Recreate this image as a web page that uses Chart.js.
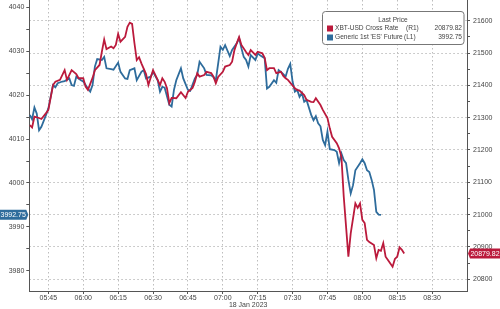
<!DOCTYPE html>
<html>
<head>
<meta charset="utf-8">
<script src="https://cdn.jsdelivr.net/npm/chart.js@4.4.0/dist/chart.umd.min.js"></script>
<style>
  html, body { margin: 0; padding: 0; background: #fff; }
  #wrap { width: 500px; height: 309px; }
</style>
</head>
<body>
<div id="wrap"><canvas id="chart"></canvas></div>
<script>
// XBT-USD cross rate (right axis)
const redTimes = [
  '05:37','05:38','05:39','05:41','05:42','05:44','05:45','05:47','05:48','05:50',
  '05:52','05:53','05:55','05:57','05:58','06:00','06:01','06:02','06:04','06:05',
  '06:07','06:08','06:09','06:10','06:12','06:13','06:14','06:15','06:16','06:18',
  '06:19','06:20','06:21','06:22','06:23','06:24','06:25','06:27','06:28','06:30',
  '06:32','06:33','06:34','06:35','06:36','06:37','06:38','06:40','06:42','06:44',
  '06:45','06:47','06:48','06:49','06:50','06:52','06:53','06:55','06:56','06:57',
  '06:58','07:00','07:01','07:03','07:04','07:05','07:06','07:07','07:08','07:10',
  '07:11','07:12','07:14','07:15','07:17','07:18','07:19','07:20','07:22','07:23',
  '07:25','07:26','07:27','07:28','07:31','07:32','07:33','07:35','07:36','07:38',
  '07:39','07:40','07:42','07:43','07:45','07:46','07:47','07:49','07:50','07:51',
  '07:52','07:54','07:55','07:57','07:58','07:59','08:00','08:01','08:02','08:03',
  '08:05','08:06','08:07','08:08','08:09','08:10','08:11','08:13','08:14','08:15',
  '08:16','08:17','08:18'
];
const redValues = [
  21277,21270,21303,21299,21296,21314,21324,21401,21411,21417,
  21447,21417,21447,21435,21422,21422,21396,21386,21423,21447,
  21463,21504,21542,21512,21520,21515,21525,21559,21535,21550,
  21581,21594,21590,21531,21478,21487,21468,21435,21401,21447,
  21417,21401,21422,21411,21391,21345,21361,21360,21379,21361,
  21380,21392,21411,21437,21427,21432,21442,21438,21427,21406,
  21426,21442,21458,21463,21473,21509,21530,21549,21525,21503,
  21494,21509,21494,21504,21499,21485,21447,21453,21453,21438,
  21442,21429,21422,21417,21391,21386,21384,21370,21355,21349,
  21348,21360,21339,21324,21299,21267,21241,21221,21205,21179,
  21056,20870,20942,21035,21021,21035,20984,20974,20922,20915,
  20906,20865,20891,20888,20912,20870,20860,20839,20863,20870,
  20899,20891,20879.82
];

// Generic 1st 'ES' future (left axis)
const blueTimes = [
  '05:37','05:38','05:39','05:40','05:41','05:42','05:44','05:45','05:47','05:48',
  '05:49','05:51','05:52','05:54','05:55','05:56','05:57','05:59','06:00','06:02',
  '06:03','06:04','06:05','06:06','06:08','06:09','06:10','06:12','06:13','06:15',
  '06:16','06:18','06:19','06:20','06:22','06:23','06:25','06:26','06:27','06:29',
  '06:30','06:32','06:33','06:34','06:35','06:37','06:38','06:39','06:40','06:42',
  '06:43','06:45','06:46','06:48','06:49','06:50','06:52','06:53','06:55','06:56',
  '06:57','06:58','06:59','07:00','07:01','07:03','07:04','07:06','07:07','07:08',
  '07:09','07:10','07:11','07:12','07:14','07:15','07:16','07:18','07:19','07:20',
  '07:22','07:23','07:24','07:25','07:26','07:27','07:28','07:29','07:30','07:31',
  '07:32','07:33','07:34','07:35','07:36','07:38','07:39','07:40','07:41','07:42',
  '07:43','07:44','07:45','07:46','07:48','07:49','07:50','07:51','07:52','07:53',
  '07:54','07:55','07:56','07:57','07:59','08:00','08:01','08:02','08:03','08:04',
  '08:05','08:06','08:07','08:08'
];
const blueValues = [
  4015.5,4014.5,4017.2,4015.8,4012.0,4012.8,4015.5,4017.0,4022.3,4021.8,
  4022.7,4023.1,4023.2,4023.8,4022.3,4022.1,4024.2,4023.4,4023.1,4021.5,
  4020.8,4022.3,4026.5,4028.2,4028.0,4028.7,4026.1,4025.9,4025.8,4027.4,
  4025.3,4023.8,4023.7,4025.7,4026.1,4023.4,4025.3,4025.7,4023.8,4024.2,
  4025.3,4023.4,4020.8,4021.9,4021.7,4017.8,4017.4,4021.2,4023.4,4026.1,
  4023.8,4021.2,4021.0,4023.8,4024.6,4027.6,4026.1,4024.6,4024.5,4024.1,
  4023.4,4027.2,4031.0,4030.3,4031.4,4028.9,4030.3,4031.8,4033.0,4030.7,
  4028.7,4028.0,4026.5,4029.1,4028.0,4029.5,4029.1,4028.4,4021.5,4021.9,
  4023.4,4022.8,4025.7,4025.3,4024.8,4024.2,4026.0,4027.1,4023.1,4020.8,
  4021.2,4019.6,4020.5,4018.5,4018.9,4015.5,4014.3,4015.2,4013.6,4012.9,
  4009.8,4008.6,4011.7,4007.7,4007.5,4007.1,4004.5,4006.7,4005.2,4004.5,
  4000.7,3997.6,3999.5,4002.9,4004.5,4005.4,4004.5,4002.9,4002.5,4000.7,
  3998.4,3993.4,3992.8,3992.75
];

const seriesNames = ['XBT-USD Cross Rate', "Generic 1st 'ES' Future"];
const seriesAxes = ['(R1)', '(L1)'];
const xTickLabels = ['05:45','06:00','06:15','06:30','06:45','07:00','07:15','07:30','07:45','08:00','08:15','08:30'];
const leftTicks = [3980, 3985, 3990, 3995, 4000, 4005, 4010, 4015, 4020, 4025, 4030, 4035, 4040];
const rightTicks = [20800, 20850, 20900, 20950, 21000, 21050, 21100, 21150, 21200, 21250, 21300, 21350, 21400, 21450, 21500, 21550, 21600];
const dateLabel = '18 Jan 2023';

const redColor = '#bb1a3c';
const blueColor = '#2e6c9c';
const axisColor = '#555';
const textColor = '#444';
const gridColor = '#bdbdbd';
const FONT = { family: 'Liberation Sans, Arial, sans-serif', size: 7, lineHeight: 1 };

function toMin(t) {
    const parts = t.split(':').map(Number);
    return parts[0] * 60 + parts[1];
}
function fmtMin(v) {
    return String(Math.floor(v / 60)).padStart(2, '0') + ':' + String(v % 60).padStart(2, '0');
}

const redData = redTimes.map((t, i) => ({ x: toMin(t), y: redValues[i] }));
const blueData = blueTimes.map((t, i) => ({ x: toMin(t), y: blueValues[i] }));

function drawTag(ctx, x0, x1, tipX, y, color, text) {
    const h = 10;
    ctx.save();
    ctx.fillStyle = color;
    ctx.beginPath();
    if (tipX > x1) {
        ctx.moveTo(x0, y - h / 2);
        ctx.lineTo(x1, y - h / 2);
        ctx.lineTo(tipX, y);
        ctx.lineTo(x1, y + h / 2);
        ctx.lineTo(x0, y + h / 2);
    } else {
        ctx.moveTo(x1, y - h / 2);
        ctx.lineTo(x0, y - h / 2);
        ctx.lineTo(tipX, y);
        ctx.lineTo(x0, y + h / 2);
        ctx.lineTo(x1, y + h / 2);
    }
    ctx.closePath();
    ctx.fill();
    ctx.fillStyle = '#fff';
    ctx.font = '7px "Liberation Sans", Arial, sans-serif';
    ctx.textAlign = 'center';
    ctx.textBaseline = 'middle';
    ctx.fillText(text, (x0 + x1) / 2, y + 0.5);
    ctx.restore();
}

const overlay = {
    id: 'overlay',
    afterDraw(chart) {
        const ctx = chart.ctx;
        const area = chart.chartArea;
        const blueLast = blueValues[blueValues.length - 1];
        const redLast = redValues[redValues.length - 1];

        // last value tags on the axes
        drawTag(ctx, 0, area.left - 3, area.left - 1, chart.scales.yL.getPixelForValue(blueLast), blueColor, blueLast.toFixed(2));
        drawTag(ctx, area.right + 3, 500, area.right + 1, chart.scales.yR.getPixelForValue(redLast), redColor, redLast.toFixed(2));

        // legend box
        const bx = 322.5, by = 11.5, bw = 141.5, bh = 33;
        ctx.save();
        ctx.fillStyle = '#fff';
        ctx.strokeStyle = '#777';
        ctx.lineWidth = 1;
        ctx.beginPath();
        ctx.roundRect(bx, by, bw, bh, 3);
        ctx.fill();
        ctx.stroke();

        ctx.font = '6.6px "Liberation Sans", Arial, sans-serif';
        ctx.fillStyle = textColor;
        ctx.textBaseline = 'middle';
        ctx.textAlign = 'center';
        ctx.fillText('Last Price', 393, 20);

        const rows = [
            { color: redColor, name: seriesNames[0], axis: seriesAxes[0], value: redLast.toFixed(2), y: 28.5, ax: 406 },
            { color: blueColor, name: seriesNames[1], axis: seriesAxes[1], value: blueLast.toFixed(2), y: 37.5, ax: 404 }
        ];
        rows.forEach(r => {
            ctx.fillStyle = r.color;
            ctx.fillRect(327, r.y - 3, 6, 6);
            ctx.fillStyle = textColor;
            ctx.textAlign = 'left';
            ctx.fillText(r.name, 335, r.y);
            ctx.fillText(r.axis, r.ax, r.y);
            ctx.textAlign = 'right';
            ctx.fillText(r.value, 462, r.y);
        });
        ctx.restore();
    }
};

new Chart(document.getElementById('chart').getContext('2d'), {
    type: 'line',
    data: {
        datasets: [{
            label: seriesNames[0],
            data: redData,
            yAxisID: 'yR',
            borderColor: redColor,
            borderWidth: 1.8,
            pointRadius: 0,
            tension: 0
        }, {
            label: seriesNames[1],
            data: blueData,
            yAxisID: 'yL',
            borderColor: blueColor,
            borderWidth: 1.8,
            pointRadius: 0,
            tension: 0
        }]
    },
    options: {
        responsive: true,
        maintainAspectRatio: false,
        animation: false,
        devicePixelRatio: 1,
        layout: { padding: 0 },
        plugins: {
            legend: { display: false },
            tooltip: { enabled: false }
        },
        scales: {
            x: {
                type: 'linear',
                min: 336.8,
                max: 525,
                afterBuildTicks: scale => { scale.ticks = xTickLabels.map(t => ({ value: toMin(t) })); },
                afterFit: scale => { scale.height = 18; scale.paddingLeft = 0; scale.paddingRight = 0; },
                ticks: {
                    callback: v => fmtMin(v),
                    font: FONT,
                    color: textColor,
                    padding: 1,
                    maxRotation: 0,
                    autoSkip: false
                },
                grid: { color: gridColor, tickLength: 3, tickColor: axisColor },
                border: { color: axisColor, dash: [1.5, 2.5] },
                title: { display: true, text: dateLabel, font: FONT, color: textColor, padding: 0 }
            },
            yL: {
                position: 'left',
                min: 3975.4,
                max: 4041.66,
                afterBuildTicks: scale => { scale.ticks = leftTicks.map(v => ({ value: v })); },
                afterFit: scale => { scale.width = 29.3; scale.paddingTop = 0; scale.paddingBottom = 0; },
                ticks: {
                    callback: v => (v % 10 === 0 ? v : ''),
                    font: FONT,
                    color: textColor,
                    padding: 2
                },
                grid: { drawOnChartArea: false, tickLength: 3, tickColor: axisColor },
                border: { color: axisColor }
            },
            yR: {
                position: 'right',
                min: 20763.8,
                max: 21664,
                afterBuildTicks: scale => { scale.ticks = rightTicks.map(v => ({ value: v })); },
                afterFit: scale => { scale.width = 33; scale.paddingTop = 0; scale.paddingBottom = 0; },
                ticks: {
                    callback: v => (v % 100 === 0 ? v : ''),
                    font: FONT,
                    color: textColor,
                    padding: 3
                },
                grid: {
                    drawOnChartArea: true,
                    color: ctx => (ctx.tick && ctx.tick.value % 100 === 0 ? gridColor : 'rgba(0,0,0,0)'),
                    tickLength: 3,
                    tickColor: axisColor
                },
                border: { color: axisColor, dash: [1.5, 2.5] }
            }
        }
    },
    plugins: [overlay]
});
</script>
</body>
</html>
